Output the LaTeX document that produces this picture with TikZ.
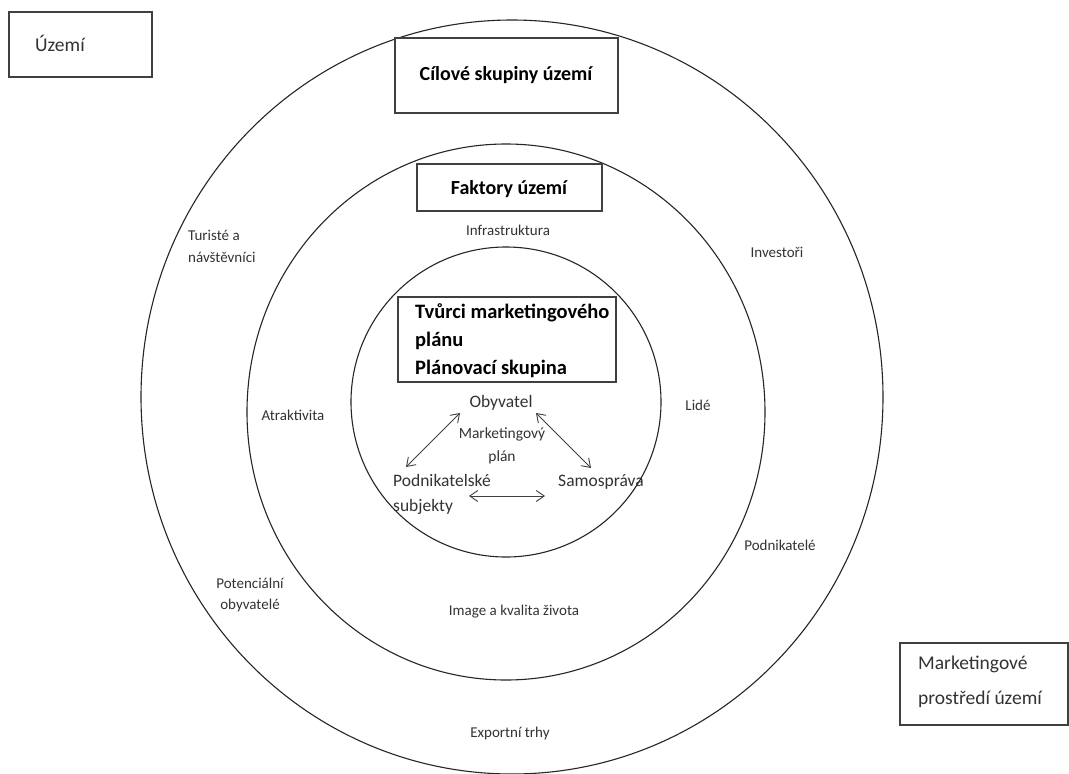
\documentclass[tikz,border=0pt]{standalone}
\usepackage{fontspec}
\setmainfont{Carlito}
\usetikzlibrary{arrows.meta,calc}
\begin{document}
\begin{tikzpicture}[x=1pt,y=-1pt,
  ring/.style={draw=black!85,line width=1.1pt},
  tbox/.style={draw=black!75,line width=1.5pt},
  lbl/.style={font=\fontsize{15}{18}\selectfont,text=black!80,inner sep=1pt},
  big/.style={font=\fontsize{17.5}{21}\selectfont,text=black!80,inner sep=1pt},
  ttl/.style={font=\bfseries\fontsize{20}{24}\selectfont,inner sep=0pt},
  biarrow/.style={draw=black!75,line width=0.9pt,{Straight Barb[length=8pt,width=11pt]}-{Straight Barb[length=8pt,width=11pt]}}]
\useasboundingbox (0,0) rectangle (1069,774);
\fill[white] (0,0) rectangle (1069,774);
% rings
\draw[ring] (512,397) ellipse [x radius=371,y radius=377];
\draw[ring] (506,412) ellipse [x radius=259,y radius=268];
\draw[ring] (506,402) circle [radius=155];
% corner boxes
\draw[tbox] (9,12) rectangle (152,77);
\node[big,anchor=west,font=\fontsize{19.5}{23}\selectfont] (uzemi) at (34,43) {Území};
\draw[tbox] (900,643) rectangle (1068,725);
\node[big,anchor=west,align=left,font=\fontsize{19.5}{35}\selectfont] (prostredi) at (917,682) {Marketingové\\prostředí území};
% title boxes
\draw[tbox,fill=white] (395,38) rectangle (618,113);
\node[ttl] (cilove) at (506,75) {Cílové skupiny území};
\draw[tbox,fill=white] (417,164) rectangle (602,211);
\node[ttl] (faktory) at (509,189) {Faktory území};
\draw[tbox,fill=white] (398,297) rectangle (616,382);
\node[ttl,anchor=west,align=left,font=\bfseries\fontsize{20.5}{28}\selectfont] (tvurci) at (415,341) {Tvůrci marketingového\\plánu\\Plánovací skupina};
% outer ring labels
\node[lbl,anchor=west,align=left,font=\fontsize{15}{22}\selectfont] (turiste) at (187,246) {Turisté a\\návštěvníci};
\node[lbl] (investori) at (777,252) {Investoři};
\node[lbl] (podnikatele) at (780,545) {Podnikatelé};
\node[lbl,align=center,font=\fontsize{15}{21}\selectfont] (potencialni) at (250,595) {Potenciální\\obyvatelé};
\node[lbl] (export) at (510,733) {Exportní trhy};
% middle ring labels
\node[lbl] (infra) at (508,230) {Infrastruktura};
\node[lbl] (atrakt) at (293,415) {Atraktivita};
\node[lbl] (lide) at (698,405) {Lidé};
\node[lbl] (image) at (514,612) {Image a kvalita života};
% inner
\node[big] (oby) at (501,403) {Obyvatel};
\node[lbl,align=center,font=\fontsize{15.5}{23}\selectfont] (mplan) at (502,446) {Marketingový\\plán};
\node[big,anchor=west,align=left,font=\fontsize{17.5}{25}\selectfont] (pod) at (392,494) {Podnikatelské\\subjekty};
\node[big] (sam) at (601,482) {Samospráva};
\coordinate (ao) at (460,413);
\coordinate (ap) at (406,467);
\coordinate (bo) at (536,413);
\coordinate (bs) at (591,468);
\coordinate (cp) at (469,496);
\coordinate (cs) at (545,496);
\draw[biarrow] (ao) -- (ap);
\draw[biarrow] (bo) -- (bs);
\draw[biarrow] (cp) -- (cs);
\end{tikzpicture}
\end{document}
